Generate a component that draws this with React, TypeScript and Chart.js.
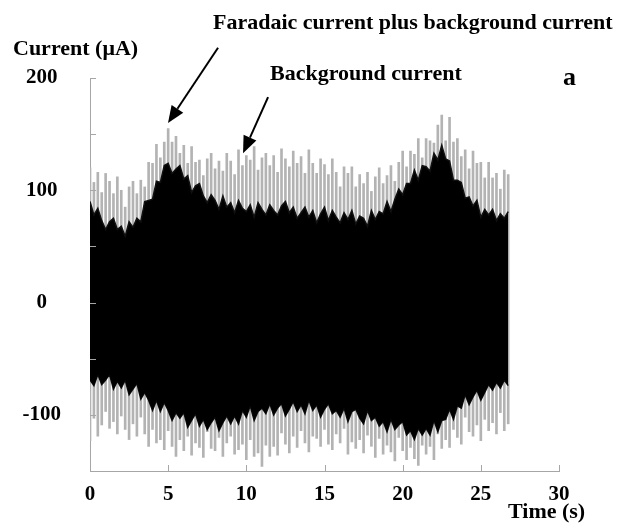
import React, { useEffect, useRef } from "react";
import { Chart, registerables } from "chart.js";

Chart.register(...registerables);

// Sampling interval of the recorded trace (s)
const SAMPLE_STEP = 0.25;

// Faradaic current plus background current: spike tips (upper / lower), µA
const GRAY_UPPER = [
  120, 107, 116, 98, 115, 108, 97, 112, 100, 85, 103, 108, 97, 109, 103, 125,
  124, 141, 129, 143, 155, 143, 148, 133, 140, 124, 139, 125, 127, 113, 128, 133,
  119, 126, 117, 133, 126, 114, 136, 122, 131, 127, 139, 118, 129, 133, 122, 131,
  116, 137, 128, 121, 135, 124, 130, 115, 136, 124, 115, 128, 123, 114, 128, 116,
  103, 121, 115, 121, 103, 114, 106, 116, 99, 112, 120, 106, 113, 122, 108, 125,
  135, 121, 135, 132, 146, 129, 146, 144, 142, 158, 167, 144, 165, 143, 146, 130,
  136, 119, 135, 124, 125, 111, 125, 111, 115, 101, 118, 114,
];
const GRAY_LOWER = [
  -123, -103, -119, -109, -97, -112, -106, -117, -101, -113, -122, -108, -119, -102, -117, -128,
  -113, -125, -122, -131, -114, -128, -137, -122, -132, -119, -136, -125, -129, -138, -115, -130,
  -132, -120, -137, -125, -119, -135, -131, -126, -140, -122, -137, -134, -146, -127, -137, -128,
  -136, -116, -126, -134, -119, -129, -114, -125, -133, -119, -121, -128, -113, -126, -131, -117,
  -125, -112, -135, -124, -130, -122, -134, -118, -128, -138, -121, -135, -127, -133, -141, -120,
  -132, -140, -129, -139, -145, -127, -135, -128, -140, -117, -130, -122, -129, -113, -120, -126,
  -102, -115, -119, -109, -123, -104, -114, -107, -117, -98, -114, -108,
];

// Background current: envelope (upper / lower), µA
const BLACK_UPPER = [
  90, 78, 84, 73, 65, 72, 75, 65, 68, 59, 72, 67, 75, 72, 90, 91,
  92, 108, 107, 122, 124, 115, 119, 122, 110, 113, 98, 104, 106, 95, 89, 96,
  91, 83, 95, 85, 89, 80, 91, 84, 81, 87, 76, 89, 83, 78, 87, 82,
  78, 86, 90, 80, 85, 75, 80, 85, 76, 82, 71, 79, 85, 73, 82, 76,
  71, 80, 74, 82, 70, 77, 75, 68, 82, 74, 81, 79, 90, 81, 92, 101,
  96, 106, 106, 118, 109, 122, 121, 117, 133, 127, 140, 128, 126, 109, 109, 107,
  93, 94, 86, 91, 76, 83, 78, 83, 73, 79, 75, 81,
];
const BLACK_LOWER = [
  -69, -74, -64, -73, -69, -64, -77, -70, -76, -69, -82, -77, -72, -86, -80, -87,
  -96, -87, -97, -89, -96, -105, -98, -103, -98, -111, -105, -99, -110, -104, -113, -107,
  -102, -114, -107, -101, -108, -101, -108, -96, -102, -92, -105, -97, -94, -99, -90, -100,
  -94, -90, -101, -95, -88, -97, -91, -99, -87, -96, -91, -102, -95, -90, -99, -96,
  -102, -94, -106, -97, -95, -103, -108, -96, -105, -102, -110, -106, -115, -104, -113, -109,
  -106, -118, -114, -122, -112, -118, -112, -118, -105, -115, -105, -104, -95, -104, -92, -94,
  -82, -91, -84, -78, -87, -80, -73, -78, -71, -76, -69, -74,
];

const Y_LABELS = [200, 100, 0, -100];
const ARROWS = [
  // [t start, value start, t tip, value tip]
  [8.19, 227, 4.99, 160],
  [11.39, 183, 9.79, 133],
];

const FONT = "'Liberation Serif', 'Times New Roman', serif";

const decorPlugin = {
  id: "decor",
  afterDraw(chart: any) {
    const { ctx, scales } = chart;
    const xs = scales.x;
    const ys = scales.y;
    ctx.save();
    // inside tick marks
    ctx.strokeStyle = "#a6a6a6";
    ctx.lineWidth = 1;
    ys.ticks.forEach((t: any) => {
      const py = Math.round(ys.getPixelForValue(t.value)) + 0.5;
      ctx.beginPath();
      ctx.moveTo(xs.left, py);
      ctx.lineTo(xs.left + 6, py);
      ctx.stroke();
    });
    xs.ticks.forEach((t: any) => {
      const px = Math.round(xs.getPixelForValue(t.value)) + 0.5;
      ctx.beginPath();
      ctx.moveTo(px, ys.bottom);
      ctx.lineTo(px, ys.bottom - 6);
      ctx.stroke();
    });

    // arrows
    ctx.strokeStyle = "#000";
    ctx.fillStyle = "#000";
    ctx.lineWidth = 2;
    ARROWS.forEach(([t0, v0, t1, v1]) => {
      const x0 = xs.getPixelForValue(t0);
      const y0 = ys.getPixelForValue(v0);
      const x1 = xs.getPixelForValue(t1);
      const y1 = ys.getPixelForValue(v1);
      const ang = Math.atan2(y1 - y0, x1 - x0);
      const hl = 17;
      const hw = 7;
      const bx = x1 - hl * Math.cos(ang);
      const by = y1 - hl * Math.sin(ang);
      ctx.beginPath();
      ctx.moveTo(x0, y0);
      ctx.lineTo(bx, by);
      ctx.stroke();
      ctx.beginPath();
      ctx.moveTo(x1, y1);
      ctx.lineTo(bx + hw * Math.sin(ang), by - hw * Math.cos(ang));
      ctx.lineTo(bx - hw * Math.sin(ang), by + hw * Math.cos(ang));
      ctx.closePath();
      ctx.fill();
    });

    // texts
    ctx.fillStyle = "#000";
    ctx.textBaseline = "alphabetic";
    ctx.textAlign = "left";
    ctx.font = `bold 22px ${FONT}`;
    ctx.fillText("Current (\u03bcA)", 13, 55);
    ctx.fillText("Faradaic current plus background current", 213, 29);
    ctx.fillText("Background current", 270, 80);
    ctx.fillText("Time (s)", 508, 518);
    ctx.font = `bold 26px ${FONT}`;
    ctx.fillText("a", 563, 85);
    ctx.restore();
  },
};

export default function App() {
  const ref = useRef<HTMLCanvasElement | null>(null);

  useEffect(() => {
    if (!ref.current) return;
    const times = GRAY_UPPER.map((_, i) => i * SAMPLE_STEP);
    const gray = times.map((t, i) => ({ x: t, y: [GRAY_LOWER[i], GRAY_UPPER[i]] }));
    const bUp = times.map((t, i) => ({ x: t, y: BLACK_UPPER[i] }));
    const bLo = times.map((t, i) => ({ x: t, y: BLACK_LOWER[i] }));

    const chart = new Chart(ref.current, {
      type: "bar",
      data: {
        datasets: [
          {
            type: "line",
            label: "Background current",
            data: bUp,
            borderColor: "#111",
            backgroundColor: "#000",
            borderWidth: 1.5,
            pointRadius: 0,
            fill: "+1",
            order: 0,
          } as any,
          {
            type: "line",
            label: "Background current (lower)",
            data: bLo,
            borderColor: "#111",
            backgroundColor: "#000",
            borderWidth: 1.5,
            pointRadius: 0,
            fill: false,
            order: 1,
          } as any,
          {
            type: "bar",
            label: "Faradaic current plus background current",
            data: gray as any,
            backgroundColor: "#b3b3b3",
            borderWidth: 0,
            barThickness: 2,
            grouped: false,
            order: 2,
          } as any,
        ],
      },
      options: {
        animation: false,
        responsive: false,
        devicePixelRatio: 1,
        layout: { padding: { left: 0, top: 78, right: 63, bottom: 0 } },
        plugins: { legend: { display: false }, tooltip: { enabled: false }, title: { display: false } },
        scales: {
          x: {
            type: "linear",
            min: 0,
            max: 30,
            offset: false,
            grid: { display: false },
            border: { display: true, color: "#a6a6a6", width: 1 },
            ticks: {
              stepSize: 5,
              color: "#000",
              padding: 3,
              maxRotation: 0,
              font: { family: FONT, size: 21, weight: "bold" },
            },
            afterFit: (s: any) => {
              s.height = 60;
            },
          },
          y: {
            type: "linear",
            min: -150,
            max: 200,
            grid: { display: false },
            border: { display: true, color: "#a6a6a6", width: 1 },
            ticks: {
              stepSize: 50,
              color: "#000",
              padding: 21,
              crossAlign: "center",
              font: { family: FONT, size: 21, weight: "bold" },
              callback: (v: any) => (Y_LABELS.includes(Number(v)) ? String(v) : ""),
            },
            afterFit: (s: any) => {
              s.width = 90;
            },
          },
        },
      } as any,
      plugins: [decorPlugin],
    });
    return () => chart.destroy();
  }, []);

  return (
    <div style={{ position: "absolute", left: 0, top: 0, width: 622, height: 531, background: "#fff" }}>
      <canvas ref={ref} width={622} height={531} />
    </div>
  );
}
